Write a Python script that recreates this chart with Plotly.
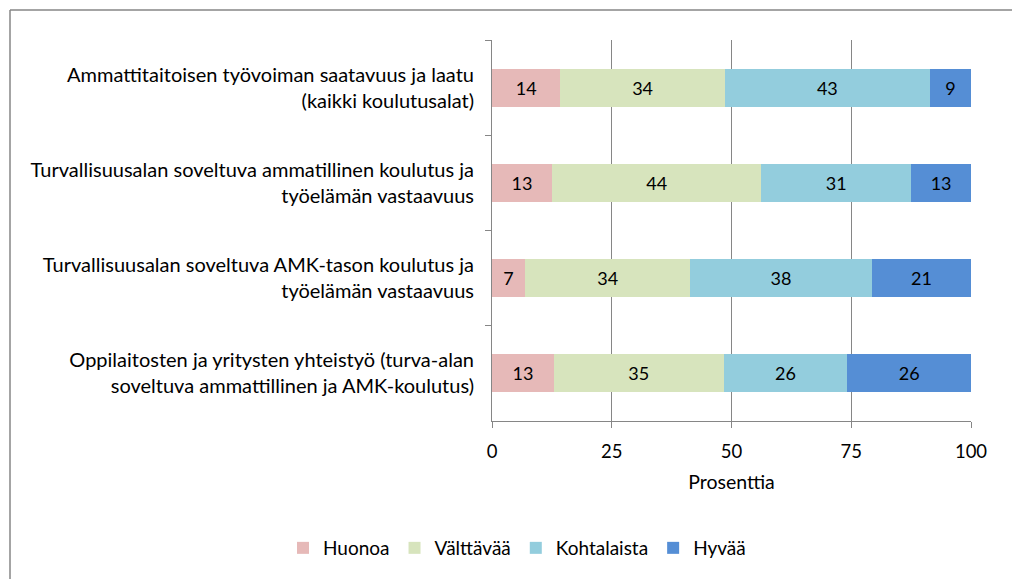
import plotly.graph_objects as go

categories = [
    'Ammattitaitoisen työvoiman saatavuus ja laatu<br>(kaikki koulutusalat)',
    'Turvallisuusalan soveltuva ammatillinen koulutus ja<br>työelämän vastaavuus',
    'Turvallisuusalan soveltuva AMK-tason koulutus ja<br>työelämän vastaavuus',
    'Oppilaitosten ja yritysten yhteistyö (turva-alan<br>soveltuva ammattillinen ja AMK-koulutus)',
]
huonoa = [14.29, 12.5, 6.9, 12.9]
valttavaa = [34.29, 43.75, 34.48, 35.48]
kohtalaista = [42.86, 31.25, 37.93, 25.81]
hyvaa = [8.57, 12.5, 20.69, 25.81]

series_names = ['Huonoa', 'Välttävää', 'Kohtalaista', 'Hyvää']
colors = ['#E6B9B8', '#D7E4BD', '#93CDDD', '#558ED5']
x_ticks = [0, 25, 50, 75, 100]

font = 'Lato, Carlito, Calibri, sans-serif'

W, H = 1012, 579
L, R, T, B = 492, 41, 40, 158
pw = W - L - R
ph = H - T - B

fig = go.Figure()
for name, vals, col in zip(series_names, [huonoa, valttavaa, kohtalaista, hyvaa], colors):
    fig.add_trace(go.Bar(
        y=categories, x=vals, name=name, orientation='h',
        marker=dict(color=col, line=dict(width=0)),
        texttemplate='%{x:.0f}', textposition='inside',
        insidetextanchor='middle', textangle=0,
        textfont=dict(color='#000000', size=18, family=font),
        constraintext='none',
    ))

border = dict(color='#868686', width=1.5)
bx = (10 - L) / pw
by = (T + ph - 10) / ph
fig.update_layout(
    barmode='stack',
    bargap=0.6,
    width=W, height=H,
    margin=dict(l=L, r=R, t=T, b=B, autoexpand=False),
    paper_bgcolor='white', plot_bgcolor='white',
    font=dict(family=font, size=19, color='#000000'),
    legend=dict(orientation='h', x=(517 - L) / pw, xanchor='center',
                y=(T + ph - 548) / ph, yanchor='middle', traceorder='normal',
                font=dict(size=19), itemwidth=30),
    shapes=[
        dict(type='line', xref='paper', yref='paper',
             x0=bx, x1=bx, y0=-1, y1=by, line=border),
        dict(type='line', xref='paper', yref='paper',
             x0=bx, x1=1.5, y0=by, y1=by, line=border),
    ],
)
fig.update_xaxes(
    range=[0, 100], tickvals=x_ticks, showgrid=True, gridcolor='#868686', gridwidth=1,
    showline=True, linecolor='#868686', ticks='outside', ticklen=6, tickcolor='#868686',
    zeroline=False, title=dict(text='Prosenttia', standoff=14, font=dict(size=19.5)),
    tickfont=dict(size=18.5), ticklabelstandoff=8, automargin=False,
)
fig.update_yaxes(
    autorange='reversed', showline=True, linecolor='#868686', ticks='outside',
    tickson='boundaries', ticklen=6, tickcolor='#868686', showgrid=False,
    tickfont=dict(size=20), ticklabelstandoff=13, automargin=False,
)

fig.write_html('out.html', config={'displayModeBar': False},
               post_script="document.body.style.margin='0';document.body.style.overflow='hidden';")
